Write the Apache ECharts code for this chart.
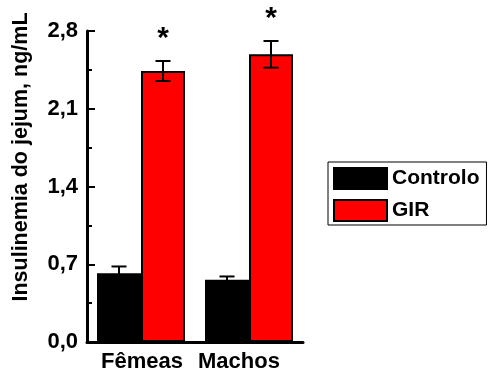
<!DOCTYPE html>
<html>
<head>
<meta charset="utf-8">
<style>
  html, body { margin: 0; padding: 0; background: #fff; }
  #chart { width: 488px; height: 373px; }
</style>
<script src="https://cdn.jsdelivr.net/npm/echarts@6/dist/echarts.min.js"></script>
</head>
<body>
<div id="chart"></div>
<script>
// Fasting insulin (ng/mL) by sex, control vs GIR groups
const categories = ['Fêmeas', 'Machos'];
const controloMean = [0.62, 0.56];
const controloErr = [0.06, 0.03];
const girMean = [2.44, 2.59];
const girErr = [0.09, 0.12];
const girSignificant = [true, true];
const yTicks = { min: 0, max: 2.8, interval: 0.7 };

const FONT = 'Liberation Sans, Arial, sans-serif';
const BAR_W = 44;

function errorData(means, errs, flags) {
  return means.map((m, i) => [i, m, errs[i], flags ? (flags[i] ? 1 : 0) : 0]);
}

// Error bars (and significance marks) drawn on top of each bar
function makeErrorRenderer(side) {
  return function (params, api) {
    const cat = api.value(0);
    const mean = api.value(1);
    const err = api.value(2);
    const star = api.value(3);
    const top = api.coord([cat, mean + err]);
    const bot = api.coord([cat, mean - err]);
    const x = top[0] + side * BAR_W / 2;
    const cap = 7.5;
    const style = { stroke: '#000', lineWidth: 2 };
    const children = [
      { type: 'line', shape: { x1: x, y1: top[1], x2: x, y2: bot[1] }, style },
      { type: 'line', shape: { x1: x - cap, y1: top[1], x2: x + cap, y2: top[1] }, style },
      { type: 'line', shape: { x1: x - cap, y1: bot[1], x2: x + cap, y2: bot[1] }, style }
    ];
    if (star) {
      children.push({
        type: 'text',
        style: {
          text: '*', x: x, y: top[1] - 22,
          fill: '#000', font: 'bold 30px ' + FONT,
          textAlign: 'center', textVerticalAlign: 'middle'
        }
      });
    }
    return { type: 'group', children };
  };
}

const chart = echarts.init(document.getElementById('chart'), null, { renderer: 'canvas' });

chart.setOption({
  animation: false,
  backgroundColor: '#fff',
  grid: { left: 87, top: 31, width: 216, height: 311, containLabel: false },
  legend: {
    orient: 'vertical',
    left: 328, top: 162,
    padding: [5, 7, 3, 5],
    itemWidth: 53, itemHeight: 21, itemGap: 9,
    borderColor: '#000', borderWidth: 1,
    icon: 'rect',
    textStyle: { fontFamily: FONT, fontWeight: 'bold', fontSize: 21, color: '#000' },
    data: ['Controlo', 'GIR']
  },
  xAxis: {
    type: 'category',
    data: categories,
    axisLine: { lineStyle: { color: '#000', width: 3 } },
    axisTick: { show: false },
    axisLabel: {
      margin: 9,
      formatter: v => (v === 'Machos' ? '{m|' + v + '}' : '{f|' + v + '}'),
      rich: {
        f: { fontFamily: FONT, fontWeight: 'bold', fontSize: 22, color: '#000', padding: [0, 0, 0, 2] },
        m: { fontFamily: FONT, fontWeight: 'bold', fontSize: 22, color: '#000', padding: [0, 20, 0, 0] }
      }
    }
  },
  yAxis: {
    type: 'value',
    min: yTicks.min, max: yTicks.max, interval: yTicks.interval,
    splitLine: { show: false },
    axisLine: { show: true, lineStyle: { color: '#000', width: 3 } },
    axisTick: { show: true, inside: true, length: 8, lineStyle: { color: '#000', width: 2 } },
    minorTick: { show: true, splitNumber: 2, length: 5, lineStyle: { color: '#000', width: 2 } },
    axisLabel: {
      margin: 9,
      color: '#000', fontFamily: FONT, fontWeight: 'bold', fontSize: 22,
      formatter: v => v.toFixed(1).replace('.', ',')
    }
  },
  graphic: [{
    type: 'text',
    x: 21, y: 157,
    rotation: Math.PI / 2,
    style: {
      text: 'Insulinemia do jejum, ng/mL',
      font: 'bold 21.5px ' + FONT,
      fill: '#000',
      textAlign: 'center', textVerticalAlign: 'middle'
    }
  }],
  series: [
    {
      name: 'Controlo', type: 'bar', data: controloMean,
      barWidth: BAR_W, barGap: '0%',
      itemStyle: { color: '#000', borderColor: '#000', borderWidth: 2 }
    },
    {
      name: 'GIR', type: 'bar', data: girMean,
      barWidth: BAR_W, barGap: '0%',
      itemStyle: { color: '#ff0000', borderColor: '#000', borderWidth: 2 }
    },
    {
      type: 'custom', name: 'errControlo', z: 5,
      renderItem: makeErrorRenderer(-1),
      data: errorData(controloMean, controloErr, null),
      encode: { x: 0, y: 1 }, silent: true
    },
    {
      type: 'custom', name: 'errGIR', z: 5,
      renderItem: makeErrorRenderer(1),
      data: errorData(girMean, girErr, girSignificant),
      encode: { x: 0, y: 1 }, silent: true
    }
  ]
});
</script>
</body>
</html>
